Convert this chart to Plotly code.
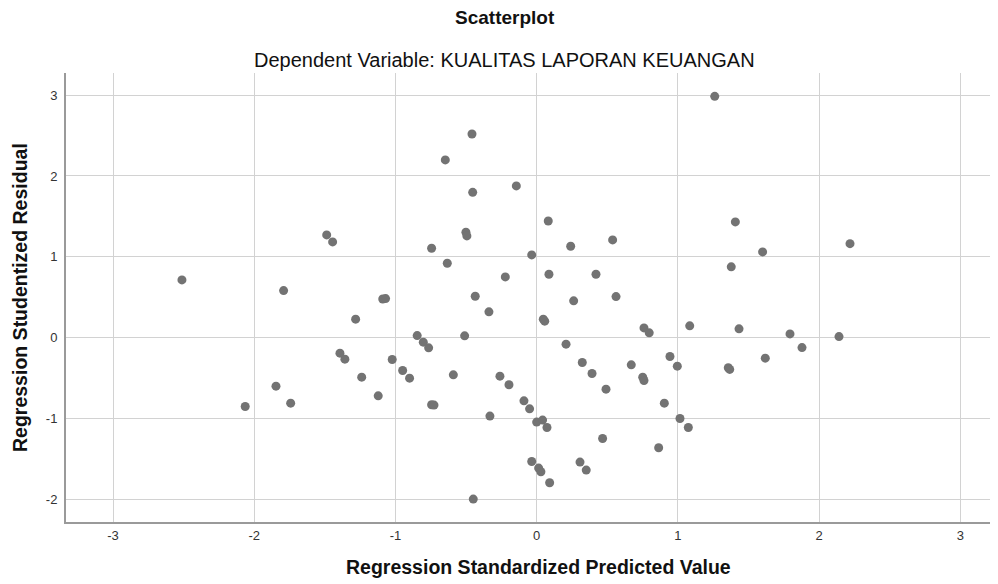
import plotly.graph_objects as go

predicted = [
    -2.512, -2.064, -1.846, -1.792, -1.742, -1.487, -1.445, -1.393, -1.358, -1.282,
    -1.239, -1.122, -1.09, -1.07, -1.023, -0.949, -0.9, -0.846, -0.803, -0.765,
    -0.744, -0.744, -0.727, -0.647, -0.633, -0.59, -0.51, -0.501, -0.494, -0.458,
    -0.453, -0.449, -0.435, -0.338, -0.331, -0.26, -0.222, -0.196, -0.144, -0.09,
    -0.05, -0.035, -0.035, 0.0, 0.014, 0.03, 0.042, 0.047, 0.057, 0.073,
    0.082, 0.087, 0.092, 0.208, 0.241, 0.262, 0.307, 0.323, 0.351, 0.392,
    0.42, 0.467, 0.491, 0.538, 0.562, 0.67, 0.751, 0.76, 0.76, 0.797,
    0.864, 0.904, 0.944, 0.996, 1.015, 1.074, 1.084, 1.261, 1.357, 1.367,
    1.378, 1.407, 1.433, 1.6, 1.619, 1.794, 1.879, 2.141, 2.219,
]
residual = [
    0.716, -0.848, -0.597, 0.584, -0.807, 1.272, 1.185, -0.189, -0.263, 0.231,
    -0.486, -0.716, 0.48, 0.485, -0.268, -0.403, -0.498, 0.028, -0.053, -0.123,
    1.107, -0.827, -0.831, 2.198, 0.922, -0.457, 0.025, 1.305, 1.259, 2.518,
    1.798, -1.992, 0.514, 0.321, -0.967, -0.473, 0.753, -0.58, 1.877, -0.778,
    -0.877, 1.025, -1.527, -1.041, -1.609, -1.654, -1.016, 0.231, 0.206, -1.107,
    1.444, 0.786, -1.79, -0.078, 1.132, 0.457, -1.535, -0.305, -1.634, -0.441,
    0.786, -1.243, -0.634, 1.21, 0.51, -0.333, -0.486, -0.527, 0.123, 0.062,
    -1.358, -0.807, -0.23, -0.35, -0.996, -1.107, 0.148, 2.984, -0.37, -0.39,
    0.877, 1.432, 0.111, 1.062, -0.251, 0.049, -0.12, 0.016, 1.164,
]
tick_vals = [-3, -2, -1, 0, 1, 2, 3]
y_tick_vals = [-2, -1, 0, 1, 2, 3]

title_text = "Scatterplot"
subtitle_text = "Dependent Variable: KUALITAS LAPORAN KEUANGAN"
x_title = "Regression Standardized Predicted Value"
y_title = "Regression Studentized Residual"

fig = go.Figure()
fig.add_trace(go.Scatter(
    x=predicted, y=residual, mode="markers",
    marker=dict(size=9, color="#737373", line=dict(width=0)),
    hoverinfo="x+y", showlegend=False,
))

FONT = "Liberation Sans, Arial, sans-serif"
OFF = 8  # default page body margin
# target page-pixel geometry of the plotting area
PL, PR, PT, PB = 66, 998, 73, 522
W, H = 998 - OFF, 584 - OFF
ml, mt = PL - OFF, PT - OFF
mr = W - (PR - OFF)
mb = H - (PB - OFF)
pw, ph = PR - PL, PB - PT

def px2paper_x(px):
    return (px - PL) / pw

def py2paper_y(py):
    return (PB - py) / ph

fig.update_layout(
    width=W, height=H,
    margin=dict(l=ml, r=mr, t=mt, b=mb, pad=0),
    paper_bgcolor="white", plot_bgcolor="white",
    font=dict(family=FONT, color="#222222"),
    xaxis=dict(
        range=[-3.333, 3.267], tickvals=tick_vals, ticktext=[str(v) for v in tick_vals],
        showgrid=True, gridcolor="#d2d2d2", gridwidth=1.3,
        zeroline=False, showline=True, linecolor="#9a9a9a", linewidth=2,
        ticks="", tickfont=dict(size=13, color="#333333", family=FONT),
        automargin=False,
    ),
    yaxis=dict(
        range=[-2.275, 3.272], tickvals=y_tick_vals, ticktext=[str(v) for v in y_tick_vals],
        showgrid=True, gridcolor="#d2d2d2", gridwidth=1.3,
        zeroline=False, showline=True, linecolor="#9a9a9a", linewidth=2,
        ticks="", tickfont=dict(size=13, color="#333333", family=FONT),
        ticklabelstandoff=4, automargin=False,
    ),
    annotations=[
        dict(text="<b>" + title_text + "</b>", x=px2paper_x(504.5), y=py2paper_y(18),
             xref="paper", yref="paper", showarrow=False, xanchor="center", yanchor="middle",
             font=dict(size=19, family=FONT, color="#111111")),
        dict(text=subtitle_text, x=px2paper_x(504.5), y=py2paper_y(60),
             xref="paper", yref="paper", showarrow=False, xanchor="center", yanchor="middle",
             font=dict(size=20, family=FONT, color="#111111")),
        dict(text="<b>" + x_title + "</b>", x=px2paper_x(538), y=py2paper_y(567),
             xref="paper", yref="paper", showarrow=False, xanchor="center", yanchor="middle",
             font=dict(size=19.5, family=FONT, color="#111111")),
        dict(text="<b>" + y_title + "</b>", x=px2paper_x(20), y=py2paper_y(298),
             xref="paper", yref="paper", showarrow=False, xanchor="center", yanchor="middle",
             textangle=-90, font=dict(size=19.5, family=FONT, color="#111111")),
    ],
)

fig.write_html("out.html")
